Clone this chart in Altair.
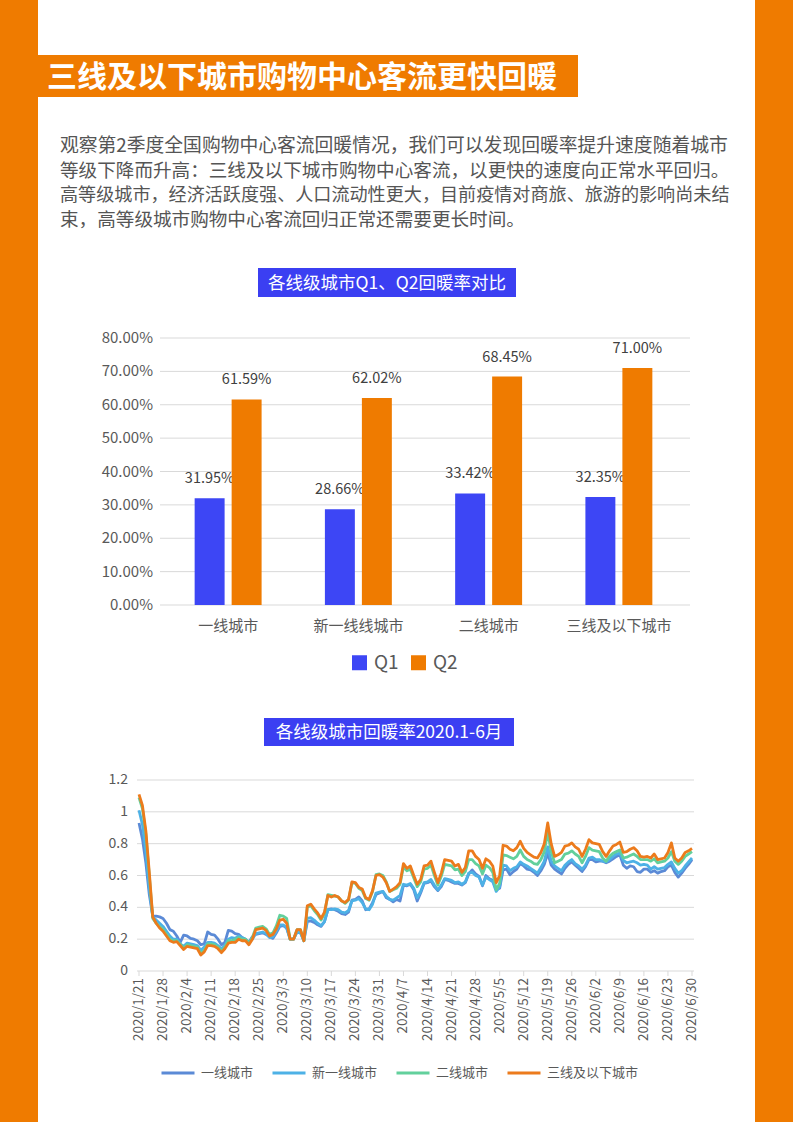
import altair as alt
import pandas as pd

W, H = 793, 1122
FONT = "Noto Sans CJK SC"
ORANGE = "#ef7b00"
BLUE_BOX = "#3b3ff2"
BLUE_BAR = "#3d46f5"
TEXT = "#595959"
GRID = "#d9d9d9"

# ---------------- text ----------------
page_title = "三线及以下城市购物中心客流更快回暖"
paragraph = [
    "观察第2季度全国购物中心客流回暖情况，我们可以发现回暖率提升速度随着城市",
    "等级下降而升高：三线及以下城市购物中心客流，以更快的速度向正常水平回归。",
    "高等级城市，经济活跃度强、人口流动性更大，目前疫情对商旅、旅游的影响尚未结",
    "束，高等级城市购物中心客流回归正常还需要更长时间。",
]
bar_title = "各线级城市Q1、Q2回暖率对比"
line_title = "各线级城市回暖率2020.1-6月"

# ---------------- bar chart data ----------------
categories = ["一线城市", "新一线线城市", "二线城市", "三线及以下城市"]
quarters = ["Q1", "Q2"]
q1_values = [0.3195, 0.2866, 0.3342, 0.3235]
q2_values = [0.6159, 0.6202, 0.6845, 0.7100]
bar_ticks = [0.0, 0.1, 0.2, 0.3, 0.4, 0.5, 0.6, 0.7, 0.8]

# ---------------- line chart data ----------------
dates = [f"{d.year}/{d.month}/{d.day}" for d in pd.date_range("2020-01-21", "2020-06-30")]
date_ticks = dates[::7]
series_names = ["一线城市", "新一线城市", "二线城市", "三线及以下城市"]
line_ticks = [0.0, 0.2, 0.4, 0.6, 0.8, 1.0, 1.2]

tier1 = [
    0.93, 0.83, 0.68, 0.48, 0.345, 0.345, 0.34,
    0.33, 0.30, 0.26, 0.25, 0.22, 0.18, 0.225,
    0.22, 0.205, 0.20, 0.19, 0.165, 0.17, 0.245,
    0.23, 0.225, 0.20, 0.165, 0.18, 0.255, 0.25,
    0.235, 0.23, 0.21, 0.20, 0.18, 0.215, 0.23,
    0.235, 0.24, 0.23, 0.215, 0.205, 0.24, 0.28,
    0.285, 0.27, 0.20, 0.20, 0.245, 0.24, 0.19,
    0.31, 0.315, 0.305, 0.29, 0.28, 0.31, 0.385,
    0.39, 0.385, 0.375, 0.36, 0.355, 0.37, 0.445,
    0.45, 0.465, 0.44, 0.385, 0.39, 0.43, 0.48,
    0.49, 0.50, 0.46, 0.45, 0.435, 0.45, 0.44,
    0.54, 0.535, 0.545, 0.51, 0.44, 0.49, 0.55,
    0.555, 0.565, 0.53, 0.505, 0.53, 0.575, 0.57,
    0.56, 0.55, 0.55, 0.54, 0.555, 0.61, 0.635,
    0.61, 0.595, 0.535, 0.60, 0.58, 0.57, 0.51,
    0.52, 0.635, 0.64, 0.605, 0.625, 0.64, 0.675,
    0.66, 0.64, 0.635, 0.62, 0.60, 0.63, 0.67,
    0.74, 0.665, 0.64, 0.625, 0.61, 0.645, 0.67,
    0.685, 0.665, 0.645, 0.625, 0.655, 0.70, 0.70,
    0.685, 0.69, 0.69, 0.68, 0.69, 0.705, 0.72,
    0.73, 0.665, 0.645, 0.66, 0.655, 0.625, 0.62,
    0.64, 0.64, 0.62, 0.63, 0.615, 0.625, 0.63,
    0.655, 0.665, 0.62, 0.59, 0.615, 0.645, 0.67,
    0.70,
]
new_tier1 = [
    1.01, 0.92, 0.75, 0.52, 0.34, 0.32, 0.30,
    0.28, 0.25, 0.22, 0.20, 0.20, 0.17, 0.155,
    0.175, 0.17, 0.165, 0.16, 0.13, 0.15, 0.18,
    0.18, 0.175, 0.16, 0.14, 0.16, 0.20, 0.21,
    0.205, 0.22, 0.21, 0.20, 0.175, 0.20, 0.235,
    0.24, 0.245, 0.235, 0.21, 0.215, 0.25, 0.29,
    0.29, 0.27, 0.20, 0.20, 0.245, 0.24, 0.19,
    0.33, 0.335, 0.32, 0.30, 0.285, 0.31, 0.385,
    0.385, 0.39, 0.385, 0.37, 0.365, 0.38, 0.44,
    0.445, 0.455, 0.43, 0.39, 0.385, 0.42, 0.49,
    0.495, 0.50, 0.47, 0.45, 0.445, 0.46, 0.475,
    0.545, 0.54, 0.55, 0.52, 0.46, 0.50, 0.555,
    0.56, 0.575, 0.54, 0.51, 0.54, 0.58, 0.575,
    0.57, 0.555, 0.56, 0.545, 0.56, 0.615, 0.62,
    0.60, 0.59, 0.54, 0.59, 0.575, 0.56, 0.50,
    0.53, 0.665, 0.66, 0.63, 0.645, 0.655, 0.685,
    0.67, 0.66, 0.645, 0.63, 0.615, 0.65, 0.69,
    0.78, 0.69, 0.66, 0.645, 0.63, 0.665, 0.685,
    0.70, 0.675, 0.66, 0.64, 0.665, 0.71, 0.715,
    0.70, 0.70, 0.69, 0.685, 0.70, 0.72, 0.735,
    0.74, 0.695, 0.68, 0.685, 0.69, 0.68, 0.665,
    0.67, 0.665, 0.64, 0.655, 0.64, 0.645, 0.65,
    0.67, 0.685, 0.645, 0.615, 0.63, 0.66, 0.685,
    0.71,
]
tier2 = [
    1.09, 1.02, 0.86, 0.60, 0.33, 0.30, 0.28,
    0.26, 0.23, 0.20, 0.19, 0.19, 0.17, 0.145,
    0.165, 0.16, 0.155, 0.15, 0.11, 0.13, 0.17,
    0.17, 0.165, 0.15, 0.125, 0.15, 0.19, 0.19,
    0.20, 0.21, 0.20, 0.20, 0.175, 0.21, 0.27,
    0.275, 0.28, 0.265, 0.23, 0.24, 0.285, 0.35,
    0.345, 0.33, 0.20, 0.20, 0.26, 0.26, 0.19,
    0.40, 0.41, 0.38, 0.355, 0.32, 0.36, 0.48,
    0.475, 0.47, 0.465, 0.44, 0.425, 0.445, 0.555,
    0.55, 0.52, 0.505, 0.455, 0.445, 0.50, 0.605,
    0.61, 0.60, 0.56, 0.50, 0.51, 0.52, 0.545,
    0.655, 0.63, 0.64, 0.585, 0.53, 0.56, 0.64,
    0.645, 0.665, 0.60, 0.54, 0.595, 0.67, 0.665,
    0.66, 0.635, 0.64, 0.60, 0.625, 0.70, 0.70,
    0.675, 0.66, 0.61, 0.665, 0.65, 0.62, 0.51,
    0.55, 0.73, 0.725, 0.715, 0.705, 0.72, 0.76,
    0.72, 0.70, 0.69, 0.675, 0.67, 0.70, 0.75,
    0.87, 0.75, 0.68, 0.69, 0.70, 0.735, 0.74,
    0.755, 0.735, 0.72, 0.68, 0.72, 0.775, 0.76,
    0.755, 0.75, 0.71, 0.69, 0.72, 0.74, 0.75,
    0.76, 0.71, 0.715, 0.725, 0.735, 0.72, 0.70,
    0.70, 0.70, 0.69, 0.705, 0.68, 0.685, 0.69,
    0.71, 0.75, 0.69, 0.67, 0.69, 0.72, 0.735,
    0.75,
]
tier3 = [
    1.11, 1.04, 0.88, 0.62, 0.34, 0.30, 0.27,
    0.25, 0.22, 0.19, 0.18, 0.185, 0.16, 0.135,
    0.155, 0.15, 0.145, 0.14, 0.10, 0.12, 0.16,
    0.16, 0.155, 0.14, 0.115, 0.14, 0.175, 0.18,
    0.18, 0.20, 0.19, 0.19, 0.165, 0.20, 0.26,
    0.265, 0.27, 0.255, 0.22, 0.23, 0.265, 0.32,
    0.325, 0.30, 0.20, 0.20, 0.26, 0.26, 0.19,
    0.41, 0.42, 0.39, 0.365, 0.33, 0.37, 0.475,
    0.465, 0.475, 0.465, 0.44, 0.43, 0.45, 0.56,
    0.555, 0.525, 0.515, 0.46, 0.45, 0.505, 0.60,
    0.605, 0.59, 0.555, 0.50, 0.515, 0.53, 0.555,
    0.675, 0.645, 0.66, 0.60, 0.545, 0.575, 0.66,
    0.665, 0.69, 0.62, 0.555, 0.615, 0.70, 0.695,
    0.69, 0.66, 0.67, 0.62, 0.65, 0.755, 0.755,
    0.72, 0.70, 0.645, 0.705, 0.69, 0.66, 0.555,
    0.60, 0.79, 0.785, 0.765, 0.755, 0.775, 0.815,
    0.77, 0.745, 0.73, 0.715, 0.71, 0.745, 0.80,
    0.93, 0.80, 0.72, 0.73, 0.745, 0.785, 0.79,
    0.805, 0.78, 0.765, 0.72, 0.765, 0.825, 0.805,
    0.80, 0.795, 0.75, 0.72, 0.755, 0.785, 0.795,
    0.81, 0.745, 0.75, 0.765, 0.775, 0.755, 0.72,
    0.715, 0.72, 0.71, 0.735, 0.70, 0.705, 0.71,
    0.745, 0.805, 0.71, 0.69, 0.71, 0.745, 0.755,
    0.77,
]
line_colors = ["#5b8ad6", "#4db1e6", "#62d09c", "#ec7b1c"]

# ---------------- frames ----------------
dummy = pd.DataFrame({"k": [0]})
bar_df = pd.DataFrame({
    "category": categories * 2,
    "quarter": ["Q1"] * len(categories) + ["Q2"] * len(categories),
    "value": q1_values + q2_values,
})
rows = []
for name, vals in zip(series_names, [tier1, new_tier1, tier2, tier3]):
    for i, (d, v) in enumerate(zip(dates, vals)):
        rows.append({"series": name, "date": d, "idx": i, "value": v})
line_df = pd.DataFrame(rows)


def box(x, x2, y, y2, color):
    return alt.Chart(dummy).mark_rect(color=color).encode(
        x=alt.value(x), x2=alt.value(x2), y=alt.value(y), y2=alt.value(y2))


def label(text, x, y, size, color, align="left", weight="normal"):
    return alt.Chart(dummy).mark_text(
        text=text, align=align, baseline="middle", fontSize=size,
        color=color, font=FONT, fontWeight=weight).encode(
        x=alt.value(x), y=alt.value(y))


# ---------------- header / decoration ----------------
para_sizes = [18.8, 18.6, 18.1, 18.6]
para_y = [146, 171, 196, 220]
header = alt.layer(
    box(0, 38, 0, H, ORANGE),
    box(755, W, 0, H, ORANGE),
    box(38, 578, 55, 97, ORANGE),
    label(page_title, 47, 78, 30, "white", weight="bold"),
    *[label(t, 60, y, s, "#555555") for t, y, s in zip(paragraph, para_y, para_sizes)],
    box(258, 516, 268, 297, BLUE_BOX),
    label(bar_title, 387, 284, 17.5, "white", align="center"),
    box(264, 514, 718, 746, BLUE_BOX),
    label(line_title, 389, 733, 17.5, "white", align="center"),
)

# ---------------- bar chart ----------------
xb = alt.Scale(domain=categories, range=[163, 684], paddingInner=0.486, paddingOuter=0.243)
yb = alt.Scale(domain=[0, 0.8], range=[605, 338], nice=False)
xo = alt.Scale(domain=quarters, paddingInner=0.19, paddingOuter=0)

tick_b = pd.DataFrame({"t": bar_ticks})
grid_b = alt.Chart(tick_b).mark_rule(color=GRID, strokeWidth=1).encode(
    y=alt.Y("t:Q", scale=yb, axis=None), x=alt.value(160), x2=alt.value(690))
ylab_b = alt.Chart(tick_b).mark_text(
    align="right", baseline="middle", fontSize=15, color=TEXT, font=FONT).encode(
    y=alt.Y("t:Q", scale=yb, axis=None), x=alt.value(153),
    text=alt.Text("t:Q", format=".2%"))
cat_b = alt.Chart(pd.DataFrame({"category": categories})).mark_text(
    baseline="middle", fontSize=15, color=TEXT, font=FONT).encode(
    x=alt.X("category:N", scale=xb, axis=None), y=alt.value(626),
    text="category:N")
val_b = alt.Chart(bar_df).mark_text(
    baseline="middle", dy=-19, fontSize=14.5, color="#404040", font=FONT).encode(
    x=alt.X("category:N", scale=xb, axis=None),
    xOffset=alt.XOffset("quarter:N", scale=xo),
    y=alt.Y("value:Q", scale=yb, axis=None),
    text=alt.Text("value:Q", format=".2%"))
bars = alt.Chart(bar_df).mark_bar().encode(
    x=alt.X("category:N", scale=xb, axis=None),
    xOffset=alt.XOffset("quarter:N", scale=xo),
    y=alt.Y("value:Q", scale=yb, axis=None),
    color=alt.Color("quarter:N", scale=alt.Scale(domain=quarters, range=[BLUE_BAR, ORANGE]),
                    legend=alt.Legend(orient="none", legendX=350, legendY=653,
                                      direction="horizontal", title=None,
                                      symbolType="square", symbolSize=225,
                                      symbolStrokeWidth=0,
                                      labelFontSize=19, labelFont=FONT, labelColor=TEXT,
                                      columnPadding=10, labelOffset=5, padding=0)))
bar_layer = alt.layer(grid_b, ylab_b, cat_b, val_b, bars)

# ---------------- line chart ----------------
xl = alt.Scale(type="point", domain=dates, range=[139, 692], padding=0)
yl = alt.Scale(domain=[0, 1.2], range=[971, 780], nice=False)

tick_l = pd.DataFrame({"t": line_ticks})
dtick = pd.DataFrame({"date": date_ticks})
grid_l = alt.Chart(tick_l).mark_rule(color=GRID, strokeWidth=1).encode(
    y=alt.Y("t:Q", scale=yl, axis=None), x=alt.value(137), x2=alt.value(694))
ylab_l = alt.Chart(tick_l).mark_text(
    align="right", baseline="middle", fontSize=14, color=TEXT, font=FONT).encode(
    y=alt.Y("t:Q", scale=yl, axis=None), x=alt.value(128),
    text=alt.Text("t:Q", format="~g"))
xtick_l = alt.Chart(dtick).mark_rule(color=GRID, strokeWidth=1).encode(
    x=alt.X("date:O", scale=xl, axis=None), y=alt.value(971), y2=alt.value(976))
xlab_l = alt.Chart(dtick).mark_text(
    angle=270, align="right", baseline="middle", fontSize=13.5, color=TEXT, font=FONT).encode(
    x=alt.X("date:O", scale=xl, axis=None), y=alt.value(978), text="date:N")
lines = alt.Chart(line_df).mark_line(strokeWidth=2.8, strokeJoin="round").encode(
    x=alt.X("date:O", scale=xl, axis=None),
    y=alt.Y("value:Q", scale=yl, axis=None),
    order=alt.Order("idx:Q"),
    color=alt.Color("series:N", scale=alt.Scale(domain=series_names, range=line_colors),
                    legend=alt.Legend(orient="none", legendX=160, legendY=1055,
                                      direction="horizontal", title=None,
                                      symbolType="stroke", symbolSize=1089,
                                      symbolStrokeWidth=3,
                                      labelFontSize=13, labelFont=FONT, labelColor=TEXT,
                                      columnPadding=12, labelOffset=5, padding=0)))
line_layer = alt.layer(grid_l, ylab_l, xtick_l, xlab_l, lines)

chart = alt.layer(header, bar_layer, line_layer).resolve_scale(
    x="independent", y="independent", color="independent"
).properties(
    width=W, height=H, padding=0, background="white",
    autosize=alt.AutoSizeParams(type="none"),
).configure_view(stroke=None)

chart.save("out.html", embed_options={"renderer": "svg", "actions": False})
